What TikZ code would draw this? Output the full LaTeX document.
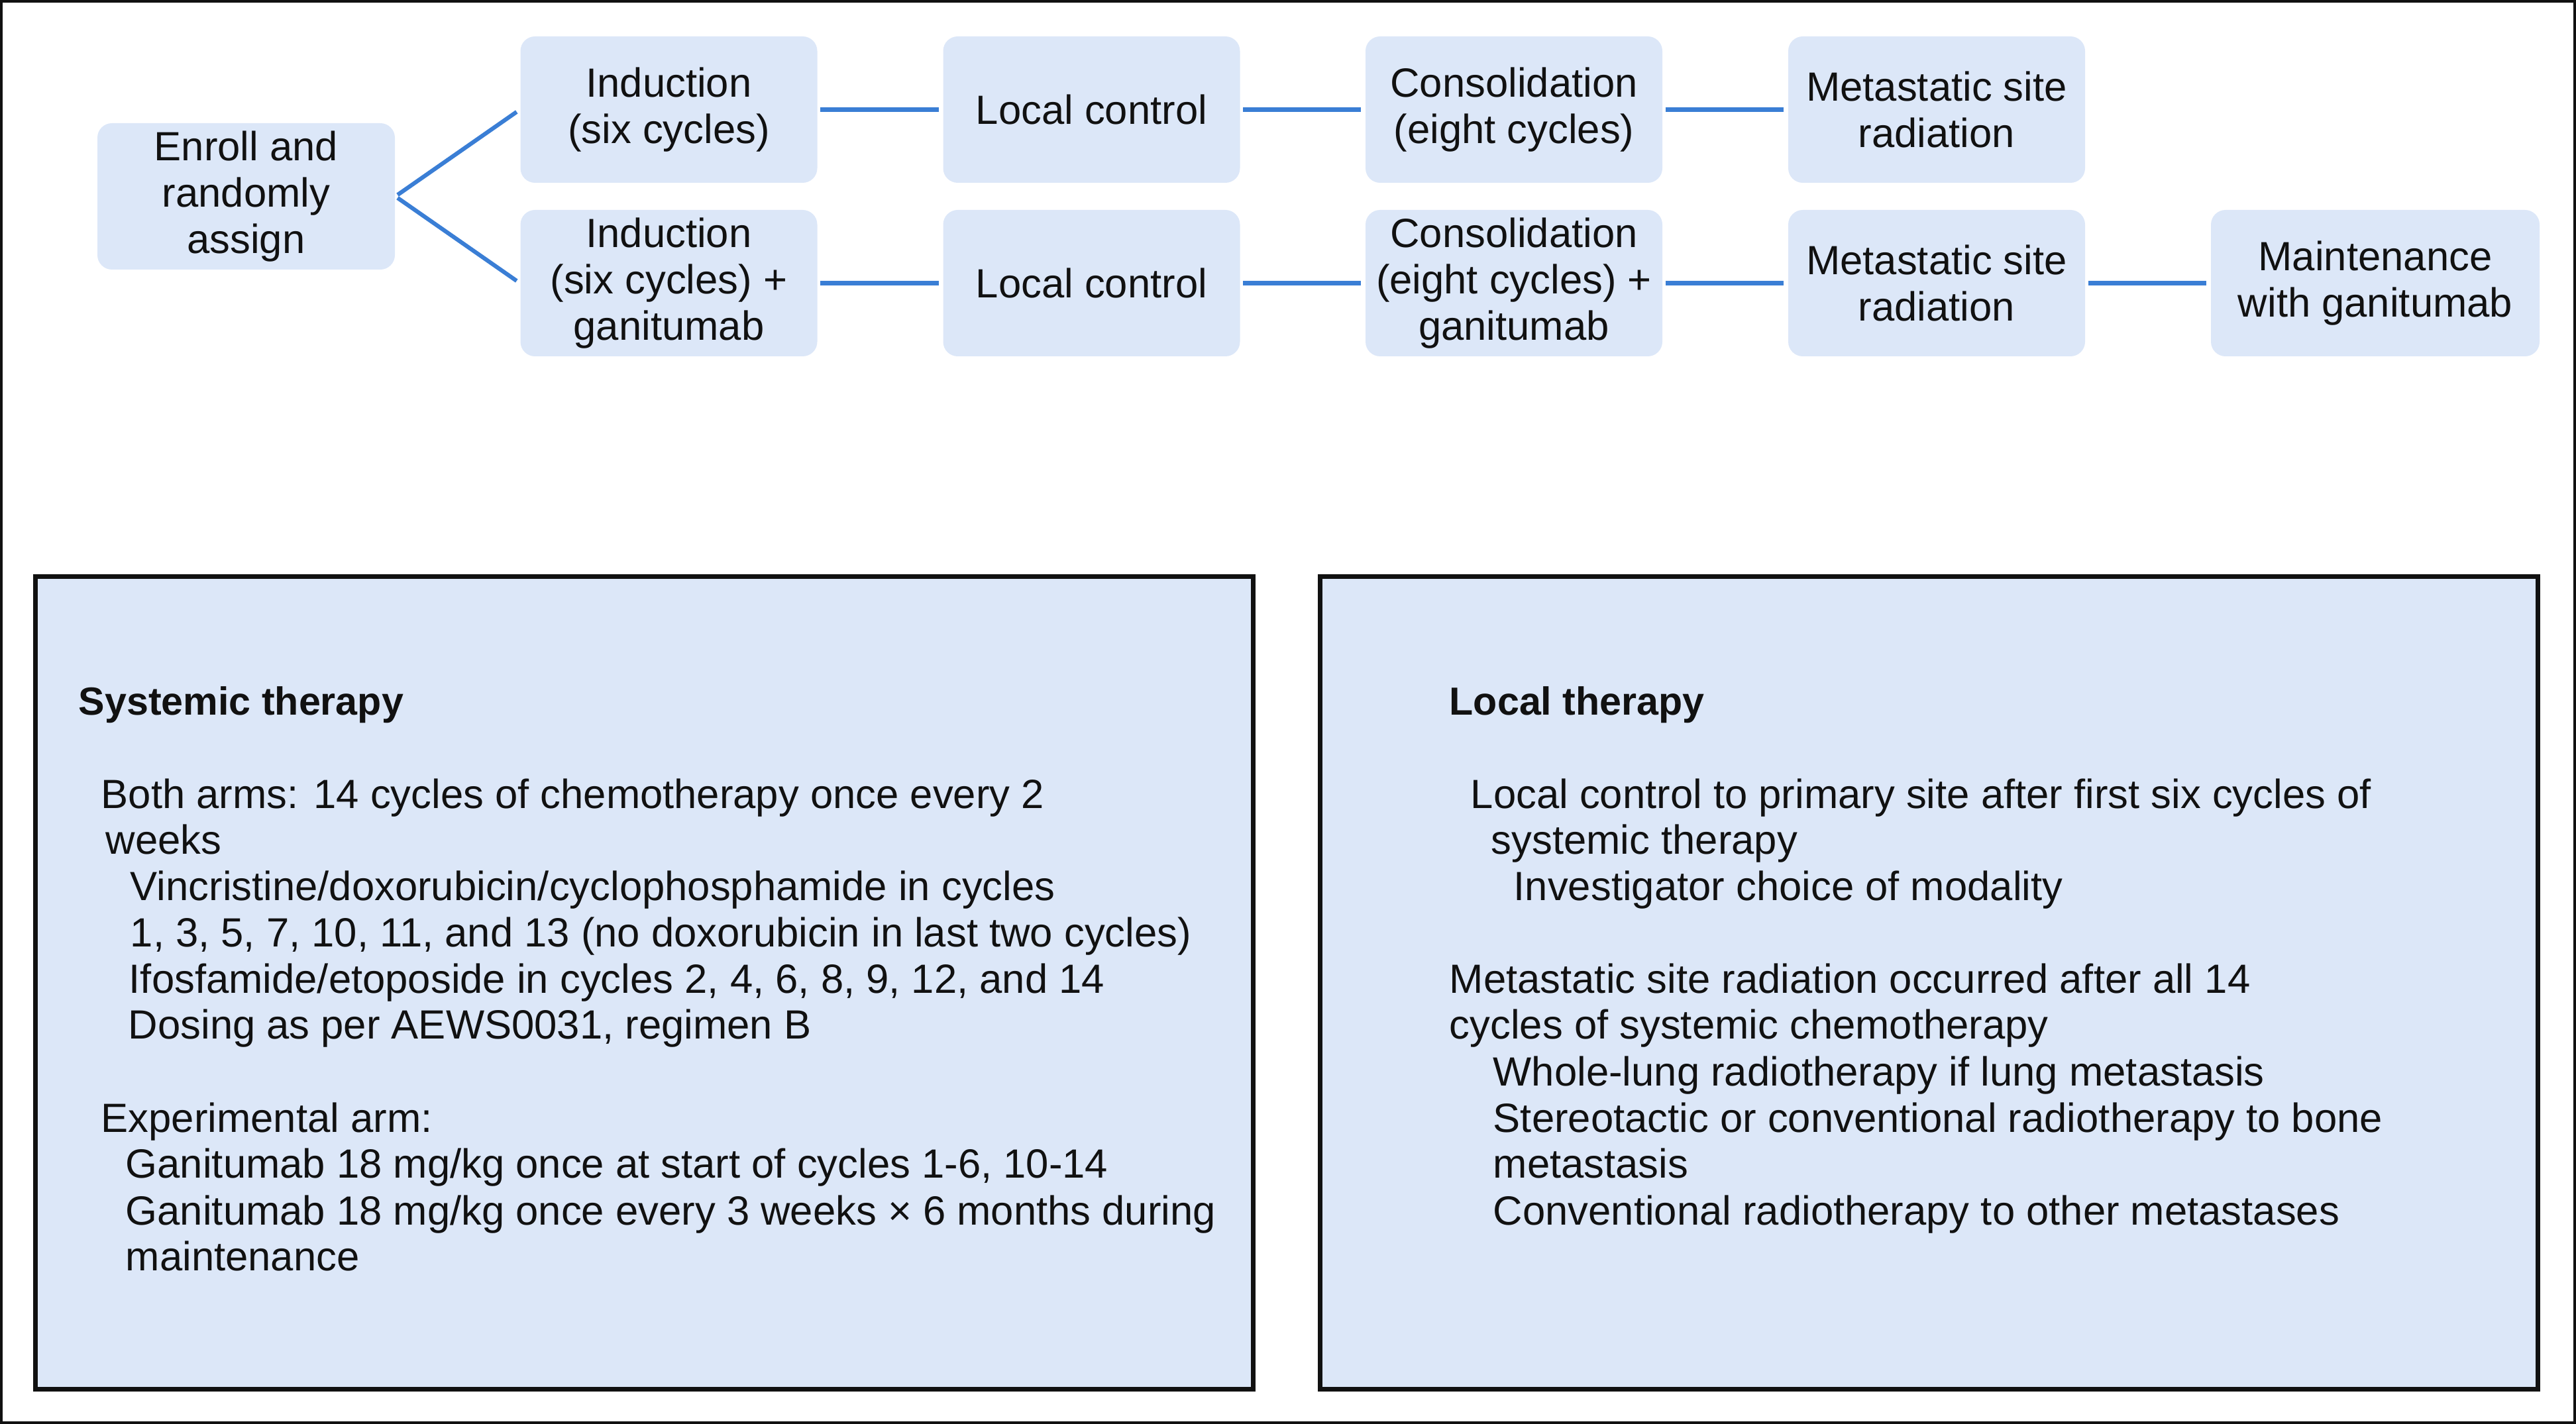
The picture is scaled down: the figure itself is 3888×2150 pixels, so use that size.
\documentclass[tikz,border=0pt]{standalone}
\usepackage{fontspec}
\setmainfont{Liberation Sans}
\definecolor{boxfill}{RGB}{220,231,248}
\definecolor{linkblue}{RGB}{58,126,213}
\definecolor{inkk}{RGB}{17,17,17}
\begin{document}
\begin{tikzpicture}[x=0.25pt,y=-0.25pt,
  flowbox/.style={fill=boxfill, rounded corners=5.5pt, inner sep=0pt, align=center,
    minimum width=112pt, minimum height=55.25pt, text=inkk,
    font=\fontsize{15.4pt}{17.5pt}\selectfont},
  link/.style={draw=linkblue, line width=1.55pt, shorten <=1pt, shorten >=1.5pt},
  panel/.style={draw=inkk, fill=boxfill, line width=1.75pt, inner sep=0pt,
    minimum width=459.5pt, minimum height=306.75pt},
  txt/.style={anchor=base west, inner sep=0pt, text=inkk,
    font=\fontsize{15.4pt}{17.5pt}\selectfont},
  hd/.style={txt, font=\fontsize{14.8pt}{17.5pt}\selectfont\bfseries}]
\useasboundingbox (0,0) rectangle (3888,2150);
\draw[draw=inkk, line width=1pt] (2,2) rectangle (3886,2148);

% flow row boxes
\node[flowbox, minimum width=112.25pt] (enroll) at (371.5,296.5) {Enroll and\\randomly\\assign};
\node[flowbox] (i1) at (1009.5,165.5) {Induction\\(six cycles)};
\node[flowbox] (i2) at (1009.5,427.5) {Induction\\(six cycles) +\\ganitumab};
\node[flowbox] (l1) at (1647.5,165.5) {Local control};
\node[flowbox] (l2) at (1647.5,427.5) {Local control};
\node[flowbox] (c1) at (2285,165.5) {Consolidation\\(eight cycles)};
\node[flowbox] (c2) at (2285,427.5) {Consolidation\\(eight cycles) +\\ganitumab};
\node[flowbox] (m1) at (2923,165.5) {Metastatic site\\radiation};
\node[flowbox] (m2) at (2923,427.5) {Metastatic site\\radiation};
\node[flowbox, minimum width=124pt] (mt) at (3585,427.5) {Maintenance\\with ganitumab};

\draw[link] (enroll.east) -- (i1.west);
\draw[link] (enroll.east) -- (i2.west);
\draw[link] (i1) -- (l1);
\draw[link] (l1) -- (c1);
\draw[link] (c1) -- (m1);
\draw[link] (i2) -- (l2);
\draw[link] (l2) -- (c2);
\draw[link] (c2) -- (m2);
\draw[link] (m2) -- (mt);

% lower panels
\node[panel] (sysbox) at (972.5,1484) {};
\node[panel] (locbox) at (2911,1484) {};

% systemic therapy text
\node[hd] (s0) at (118,1079) {Systemic therapy};
\node[txt] (s1) at (152,1220) {Both arms: 14 cycles of chemotherapy once every 2};
\node[txt] (s2) at (159,1289) {weeks};
\node[txt] (s3) at (196,1359) {Vincristine/doxorubicin/cyclophosphamide in cycles};
\node[txt] (s4) at (196,1429) {1, 3, 5, 7, 10, 11, and 13 (no doxorubicin in last two cycles)};
\node[txt] (s5) at (194,1499) {Ifosfamide/etoposide in cycles 2, 4, 6, 8, 9, 12, and 14};
\node[txt] (s6) at (193,1568) {Dosing as per AEWS0031, regimen B};
\node[txt] (s7) at (152,1709) {Experimental arm:};
\node[txt] (s8) at (189,1778) {Ganitumab 18 mg/kg once at start of cycles 1-6, 10-14};
\node[txt] (s9) at (189,1849) {Ganitumab 18 mg/kg once every 3 weeks × 6 months during};
\node[txt] (s10) at (189,1918) {maintenance};

% local therapy text
\node[hd] (t0) at (2187,1079) {Local therapy};
\node[txt] (t1) at (2219,1220) {Local control to primary site after first six cycles of};
\node[txt] (t2) at (2250,1289) {systemic therapy};
\node[txt] (t3) at (2284,1359) {Investigator choice of modality};
\node[txt] (t4) at (2187,1499) {Metastatic site radiation occurred after all 14};
\node[txt] (t5) at (2187,1568) {cycles of systemic chemotherapy};
\node[txt] (t6) at (2253,1639) {Whole-lung radiotherapy if lung metastasis};
\node[txt] (t7) at (2253,1709) {Stereotactic or conventional radiotherapy to bone};
\node[txt] (t8) at (2253,1778) {metastasis};
\node[txt] (t9) at (2253,1849) {Conventional radiotherapy to other metastases};
\end{tikzpicture}
\end{document}
